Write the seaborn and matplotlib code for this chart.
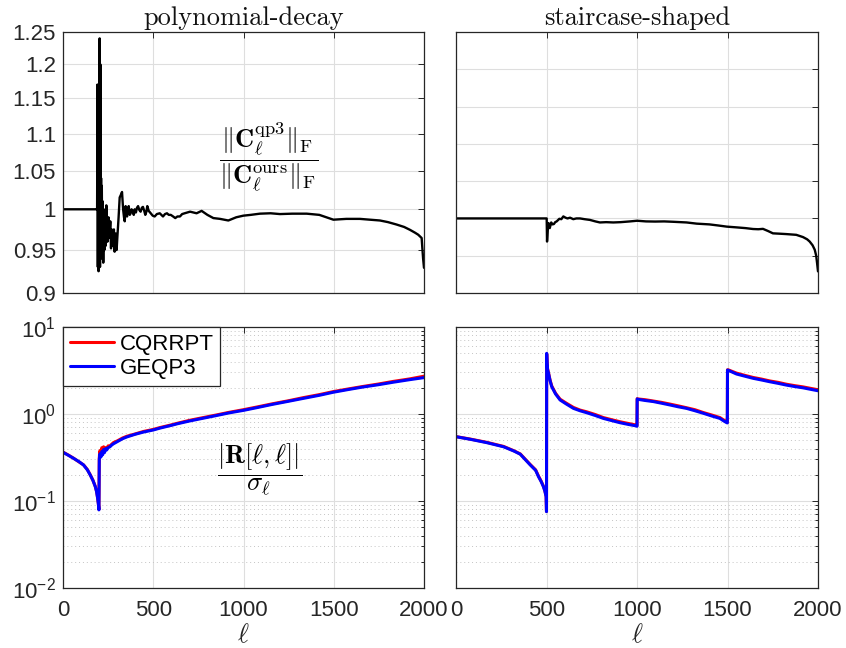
import numpy as np
import pandas as pd
import matplotlib
matplotlib.use("Agg")
import matplotlib.pyplot as plt
import seaborn as sns
from matplotlib.ticker import NullLocator, LogLocator, FixedLocator, NullFormatter

# ---------------- data ----------------
# top-left: polynomial-decay ratio ||C_qp3||_F / ||C_ours||_F
poly_top_l = [0, 100, 186, 189, 191, 193, 195, 197, 199, 201, 203, 205, 207, 209, 211, 213, 215, 217,
              220, 223, 226, 229, 232, 236, 240, 246, 252, 256, 262, 266, 270, 277, 282, 286, 292, 297,
              301, 308, 314, 320, 327, 333, 338, 342, 347, 351, 355, 360, 364, 370, 375, 380, 386, 392,
              397, 404, 410, 416, 423, 430, 437, 443, 450, 456, 462, 467, 475, 486, 497, 508, 520, 536,
              545, 554, 565, 576, 586, 597, 610, 622, 634, 648, 660, 674, 704, 740, 768, 800, 833, 870,
              916, 960, 999, 1040, 1091, 1150, 1202, 1270, 1350, 1420, 1498, 1570, 1645, 1700, 1756,
              1800, 1848, 1890, 1922, 1950, 1968, 1987, 1990, 1995, 2000]
poly_top_v = [1.0, 1.0, 1.0, 1.0, 1.17, 0.93, 1.15, 0.925, 1.05, 0.95, 1.24, 0.93, 1.2, 0.97, 1.04, 0.94,
              1.03, 0.96, 1.01, 0.935, 1.0, 0.95, 0.99, 0.955, 1.005, 0.96, 0.99, 0.965, 0.985, 0.952,
              0.975, 0.955, 0.975, 0.948, 0.97, 0.95, 0.965, 0.99, 1.015, 1.018, 1.022, 1.0, 0.99, 0.985,
              1.004, 0.995, 0.991, 1.0, 1.004, 0.993, 0.995, 1.0, 0.998, 0.993, 1.0, 0.996, 1.002, 1.004,
              0.999, 0.997, 1.002, 1.003, 0.998, 0.993, 0.997, 1.004, 0.998, 0.995, 0.992, 0.991, 0.994,
              0.995, 0.993, 0.991, 0.994, 0.995, 0.993, 0.993, 0.991, 0.989, 0.991, 0.991, 0.994, 0.995,
              0.997, 0.995, 0.998, 0.993, 0.989, 0.988, 0.986, 0.99, 0.992, 0.993, 0.9945, 0.995, 0.994,
              0.9945, 0.9945, 0.993, 0.987, 0.988, 0.988, 0.987, 0.986, 0.984, 0.981, 0.978, 0.9745,
              0.971, 0.9685, 0.9645, 0.955, 0.94, 0.929]

# top-right: staircase-shaped ratio
stair_top_l = [0, 250, 501, 503, 507, 511, 518, 526, 533, 541, 548, 556, 571, 582, 593, 605, 616, 630,
               648, 665, 685, 710, 740, 770, 795, 830, 869, 910, 961, 1000, 1050, 1100, 1150, 1200, 1274,
               1330, 1400, 1450, 1496, 1550, 1600, 1641, 1670, 1696, 1725, 1751, 1790, 1825, 1880, 1917,
               1940, 1954, 1970, 1982, 1990, 1995, 2000]
stair_top_v = [1.0, 1.0, 1.0, 0.969, 0.985, 0.9938, 0.987, 0.9946, 0.992, 0.9925, 0.995, 0.996, 0.9995,
               0.999, 1.0027, 1.001, 1.0, 1.001, 0.999, 1.0, 1.0, 0.999, 0.998, 0.996, 0.9946, 0.995,
               0.9946, 0.995, 0.996, 0.9969, 0.996, 0.9958, 0.996, 0.9955, 0.9946, 0.993, 0.992, 0.9905,
               0.989, 0.988, 0.987, 0.9858, 0.9855, 0.986, 0.983, 0.980, 0.9795, 0.979, 0.978, 0.975,
               0.972, 0.969, 0.964, 0.958, 0.95, 0.940, 0.929]

# bottom-left: polynomial-decay |R[l,l]| / sigma_l
poly_bot_l = [0, 30, 59, 90, 114, 135, 151, 166, 179, 186, 192, 196, 199, 201, 203, 205, 210, 215, 220,
              225, 230, 236, 242, 250, 260, 270, 280, 300, 330, 354, 400, 446, 500, 539, 600, 631, 700,
              760, 850, 920, 999, 1080, 1160, 1249, 1330, 1420, 1498, 1580, 1660, 1747, 1830, 1920, 2000]
poly_cqrrpt = [0.365, 0.337, 0.31, 0.28, 0.26, 0.23, 0.20, 0.173, 0.147, 0.129, 0.108, 0.093, 0.080,
               0.31, 0.36, 0.38, 0.34, 0.41, 0.37, 0.42, 0.38, 0.41, 0.395, 0.43, 0.43, 0.45, 0.47, 0.49,
               0.53, 0.555, 0.59, 0.63, 0.665, 0.70, 0.75, 0.78, 0.845, 0.895, 0.975, 1.045, 1.12, 1.21,
               1.31, 1.42, 1.54, 1.67, 1.81, 1.94, 2.07, 2.21, 2.37, 2.53, 2.72]
poly_geqp3 = [0.363, 0.335, 0.309, 0.282, 0.259, 0.228, 0.199, 0.172, 0.146, 0.128, 0.107, 0.092, 0.079,
              0.30, 0.33, 0.35, 0.32, 0.37, 0.34, 0.39, 0.36, 0.40, 0.386, 0.41, 0.42, 0.44, 0.455, 0.48,
              0.52, 0.545, 0.585, 0.62, 0.655, 0.69, 0.74, 0.77, 0.83, 0.88, 0.96, 1.03, 1.10, 1.19,
              1.29, 1.40, 1.51, 1.64, 1.78, 1.91, 2.04, 2.17, 2.32, 2.48, 2.62]

# bottom-right: staircase-shaped |R[l,l]| / sigma_l
stair_bot_l = [0, 79, 171, 263, 320, 355, 410, 440, 456, 470, 483, 491, 498, 500, 501, 503, 506, 511, 520,
               529, 550, 575, 610, 649, 685, 722, 770, 814, 860, 906, 950, 998, 1000, 1001, 1004, 1045,
               1090, 1136, 1182, 1228, 1274, 1320, 1366, 1412, 1458, 1480, 1496, 1499, 1500, 1504, 1550,
               1596, 1642, 1688, 1733, 1780, 1825, 1870, 1917, 1960, 2000]
stair_cqrrpt = [0.55, 0.515, 0.472, 0.424, 0.378, 0.348, 0.263, 0.228, 0.193, 0.17, 0.148, 0.131, 0.113,
                0.076, 4.9, 3.85, 3.3, 2.98, 2.44, 2.1, 1.73, 1.48, 1.33, 1.19, 1.11, 1.06, 0.985, 0.91,
                0.86, 0.815, 0.78, 0.745, 0.735, 1.5, 1.49, 1.46, 1.41, 1.36, 1.30, 1.24, 1.18, 1.12,
                1.04, 0.975, 0.91, 0.85, 0.81, 0.80, 3.22, 3.22, 2.95, 2.78, 2.63, 2.52, 2.40, 2.31,
                2.20, 2.12, 2.05, 1.97, 1.9]
stair_geqp3 = [0.548, 0.512, 0.468, 0.42, 0.375, 0.345, 0.26, 0.225, 0.19, 0.168, 0.146, 0.13, 0.112,
               0.0753, 4.98, 3.8, 3.25, 2.94, 2.4, 2.06, 1.7, 1.45, 1.3, 1.16, 1.09, 1.035, 0.96, 0.89,
               0.84, 0.794, 0.76, 0.728, 0.722, 1.49, 1.476, 1.43, 1.39, 1.33, 1.27, 1.21, 1.16, 1.09,
               1.02, 0.95, 0.89, 0.83, 0.794, 0.79, 3.2, 3.18, 2.88, 2.72, 2.57, 2.46, 2.35, 2.25, 2.15,
               2.07, 2.0, 1.92, 1.85]

titles = ["polynomial-decay", "staircase-shaped"]
series_names = ["CQRRPT", "GEQP3"]
xticks = [0, 500, 1000, 1500, 2000]
top_yticks = [0.9, 0.95, 1.0, 1.05, 1.1, 1.15, 1.2, 1.25]
top_ylabels = ["0.9", "0.95", "1", "1.05", "1.1", "1.15", "1.2", "1.25"]

# ---------------- style ----------------
sns.set_theme(style="white")
plt.rcParams["font.family"] = ["Liberation Sans", "DejaVu Sans"]
plt.rcParams["axes.unicode_minus"] = False
plt.rcParams["mathtext.fontset"] = "cm"

EDGE = "#262626"
GRID = "#dedede"
TICKFS = 16

fig = plt.figure(figsize=(8.46, 6.48), dpi=100)
W, H = 846, 648
def add_ax(x0, y0, x1, y1):
    return fig.add_axes([x0 / W, 1 - y1 / H, (x1 - x0) / W, (y1 - y0) / H])

ax_tl = add_ax(63, 32, 424, 293)
ax_tr = add_ax(456, 32, 818, 293)
ax_bl = add_ax(63, 327, 424, 588)
ax_br = add_ax(456, 327, 818, 588)

def style(ax):
    for s in ax.spines.values():
        s.set_color(EDGE)
        s.set_linewidth(0.9)
    ax.tick_params(which="both", direction="in", top=True, right=True, color=EDGE,
                   labelsize=TICKFS, labelcolor="#262626", width=0.7)
    ax.tick_params(which="major", length=4.5, pad=5)
    ax.tick_params(axis="x", which="major", pad=9)
    ax.tick_params(which="minor", length=2.5)
    ax.set_xlim(0, 2000)
    ax.xaxis.set_major_locator(FixedLocator(xticks))
    ax.grid(True, which="major", color=GRID, lw=0.8, ls="-")
    ax.set_axisbelow(True)

# top panels
df_tl = pd.DataFrame({"l": poly_top_l, "r": poly_top_v})
sns.lineplot(data=df_tl, x="l", y="r", ax=ax_tl, color="black", lw=1.7, estimator=None, sort=False)
df_tr = pd.DataFrame({"l": stair_top_l, "r": stair_top_v})
sns.lineplot(data=df_tr, x="l", y="r", ax=ax_tr, color="black", lw=1.7, estimator=None, sort=False)

ax_tl.set_yscale("log")
for ax in (ax_tl, ax_tr):
    style(ax)
    ax.set_ylim(0.9, 1.25)
    ax.yaxis.set_major_locator(FixedLocator(top_yticks))
    ax.yaxis.set_minor_locator(NullLocator())
    ax.yaxis.set_minor_formatter(NullFormatter())
    ax.set_xticklabels([])
    ax.set_xlabel("")
    ax.set_ylabel("")
ax_tl.set_yticklabels(top_ylabels)
ax_tr.set_yticklabels([])

for ax, t in zip((ax_tl, ax_tr), titles):
    ax.set_title(t, family="cmr10", fontsize=19, color="#111111", pad=5)

ax_tl.text(0.57, 0.52,
           r"$\dfrac{\|\mathbf{C}_\ell^{\mathrm{qp3}}\|_{\mathrm{F}}}{\|\mathbf{C}_\ell^{\mathrm{ours}}\|_{\mathrm{F}}}$",
           transform=ax_tl.transAxes, ha="center", va="center", fontsize=19,
           math_fontfamily="cm", color="black")

# bottom panels
for ax, l, red, blue in ((ax_bl, poly_bot_l, poly_cqrrpt, poly_geqp3),
                         (ax_br, stair_bot_l, stair_cqrrpt, stair_geqp3)):
    df = pd.DataFrame({"l": l + l, "v": red + blue,
                       "method": [series_names[0]] * len(l) + [series_names[1]] * len(l)})
    sns.lineplot(data=df, x="l", y="v", hue="method", ax=ax,
                 palette={series_names[0]: "#ff0000", series_names[1]: "#0000ff"},
                 lw=2.2, estimator=None, sort=False, legend=(ax is ax_bl))
    ax.set_yscale("log")
    style(ax)
    ax.set_ylim(1e-2, 1e1)
    ax.yaxis.set_major_locator(LogLocator(base=10, numticks=10))
    ax.yaxis.set_minor_locator(LogLocator(base=10, subs=np.arange(2, 10), numticks=10))
    ax.yaxis.set_minor_formatter(NullFormatter())
    ax.grid(True, which="minor", axis="y", color="#c4c4c4", lw=0.7, ls=(0, (1, 3)))
    ax.set_ylabel("")
    ax.set_xlabel(r"$\ell$", fontsize=19, math_fontfamily="cm", labelpad=1)
ax_br.set_yticklabels([])

leg = ax_bl.legend(loc="upper left", borderaxespad=0, fontsize=TICKFS, frameon=True, fancybox=False,
                   handlelength=2.0, handletextpad=0.25, borderpad=0.3, labelspacing=0.15)
leg.get_frame().set_edgecolor(EDGE)
leg.get_frame().set_linewidth(0.9)
leg.get_frame().set_alpha(1)
for h in leg.get_lines():
    h.set_linewidth(2.2)
for txt in leg.get_texts():
    txt.set_color("black")

ax_bl.text(0.545, 0.452, r"$\dfrac{|\mathbf{R}[\ell,\ell]|}{\sigma_\ell}$",
           transform=ax_bl.transAxes, ha="center", va="center", fontsize=19,
           math_fontfamily="cm", color="black")

fig.savefig("out.png", dpi=100)
